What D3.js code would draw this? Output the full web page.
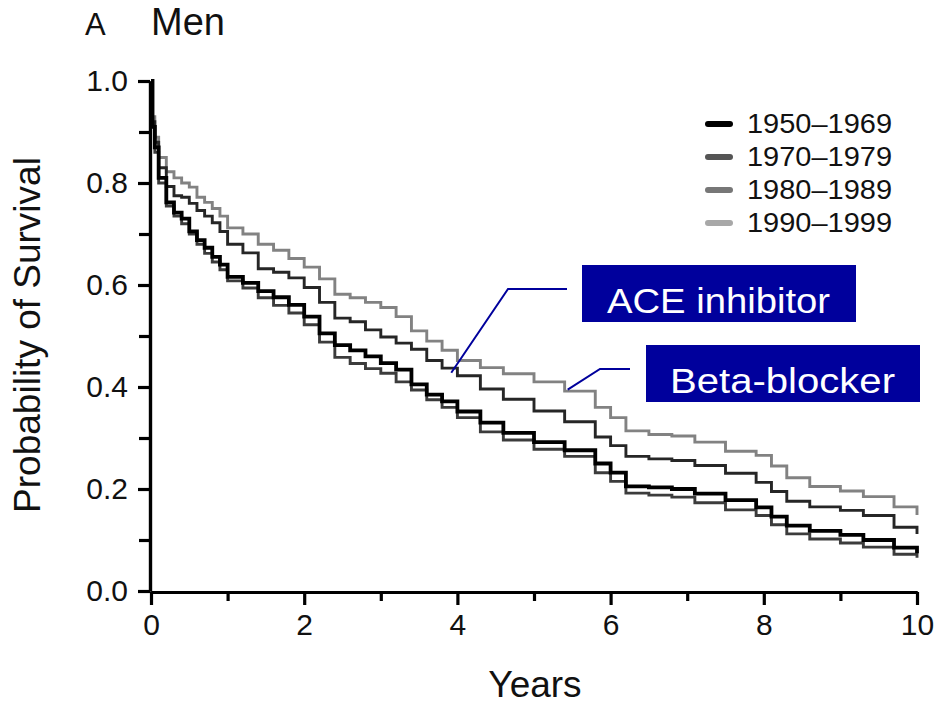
<!DOCTYPE html>
<html>
<head>
<meta charset="utf-8">
<script src="https://cdn.jsdelivr.net/npm/d3@7"></script>
<style>
  body { margin: 0; background: #fff; }
  svg { font-family: "Liberation Sans", Arial, sans-serif; display: block; }
</style>
</head>
<body>
<svg id="chart" width="935" height="705"></svg>
<script>
// follow-up years (step points of the Kaplan-Meier curves)
const years = [0, 0.02, 0.05, 0.1, 0.2, 0.3, 0.4, 0.5, 0.6, 0.7, 0.8, 0.9, 1.0, 1.2, 1.4, 1.6, 1.8, 2.0, 2.2, 2.4, 2.6, 2.8, 3.0, 3.2, 3.4, 3.6, 3.8, 4.0, 4.3, 4.6, 5.0, 5.4, 5.8, 6.0, 6.2, 6.5, 6.8, 7.1, 7.5, 7.9, 8.1, 8.3, 8.6, 9.0, 9.3, 9.7, 10.0];

const surv1950 = [1.0, 0.91, 0.87, 0.81, 0.762, 0.742, 0.73, 0.705, 0.688, 0.673, 0.655, 0.64, 0.616, 0.604, 0.588, 0.576, 0.561, 0.538, 0.505, 0.482, 0.472, 0.46, 0.447, 0.434, 0.405, 0.385, 0.372, 0.352, 0.33, 0.31, 0.292, 0.276, 0.25, 0.232, 0.205, 0.203, 0.2, 0.191, 0.178, 0.164, 0.146, 0.128, 0.118, 0.11, 0.1, 0.085, 0.074];
const surv1970 = [1.0, 0.91, 0.86, 0.80, 0.755, 0.735, 0.72, 0.70, 0.68, 0.662, 0.645, 0.63, 0.608, 0.594, 0.575, 0.56, 0.545, 0.522, 0.488, 0.458, 0.446, 0.436, 0.427, 0.41, 0.394, 0.375, 0.36, 0.34, 0.312, 0.296, 0.278, 0.264, 0.232, 0.215, 0.192, 0.188, 0.184, 0.173, 0.159, 0.148, 0.13, 0.112, 0.102, 0.094, 0.086, 0.072, 0.065];
const surv1980 = [1.0, 0.92, 0.88, 0.83, 0.793, 0.775, 0.772, 0.76, 0.746, 0.735, 0.722, 0.705, 0.68, 0.663, 0.632, 0.625, 0.614, 0.595, 0.566, 0.535, 0.528, 0.512, 0.498, 0.486, 0.474, 0.452, 0.437, 0.422, 0.396, 0.376, 0.353, 0.332, 0.302, 0.285, 0.264, 0.259, 0.256, 0.246, 0.231, 0.213, 0.195, 0.176, 0.165, 0.158, 0.148, 0.125, 0.112];
const surv1990 = [1.0, 0.93, 0.89, 0.85, 0.822, 0.81, 0.80, 0.792, 0.772, 0.762, 0.75, 0.735, 0.712, 0.70, 0.68, 0.668, 0.652, 0.635, 0.612, 0.582, 0.575, 0.566, 0.556, 0.538, 0.51, 0.49, 0.472, 0.452, 0.438, 0.426, 0.41, 0.392, 0.36, 0.34, 0.314, 0.307, 0.304, 0.292, 0.274, 0.266, 0.245, 0.222, 0.205, 0.196, 0.185, 0.165, 0.149];

const periods = ['1950\u20131969', '1970\u20131979', '1980\u20131989', '1990\u20131999'];
const lineColors = ['#000000', '#3c3c3c', '#262626', '#828282'];
const legendColors = ['#000000', '#555555', '#777777', '#a8a8a8'];
const lineWidths = [3.8, 2.9, 2.9, 2.9];

const yMajor = [0, 0.2, 0.4, 0.6, 0.8, 1.0];
const yMinor = [0.1, 0.3, 0.5, 0.7, 0.9];
const xMajor = [0, 2, 4, 6, 8, 10];
const xMinor = [1, 3, 5, 7, 9];

// callouts: label, year and survival value the leader line points at
const callouts = [
  { label: 'ACE inhibitor', year: 3.92, value: 0.428 },
  { label: 'Beta-blocker', year: 5.44, value: 0.395 }
];

const svg = d3.select('#chart');

const x = d3.scaleLinear().domain([0, 10]).range([151, 917]);
const y = d3.scaleLinear().domain([0, 1]).range([591, 81]);

// axes
const yAxisMinor = d3.axisLeft(y).tickValues(yMinor).tickSize(11).tickSizeOuter(0).tickFormat('');
const yAxisMajor = d3.axisLeft(y).tickValues(yMajor).tickSize(12).tickSizeOuter(0).tickPadding(10).tickFormat(d3.format('.1f'));
const xAxisMinor = d3.axisBottom(x).tickValues(xMinor).tickSize(9).tickSizeOuter(0).tickFormat('');
const xAxisMajor = d3.axisBottom(x).tickValues(xMajor).tickSize(13).tickSizeOuter(0).tickPadding(9).tickFormat(d3.format('d'));

function styleAxis(g) {
  g.selectAll('path, line').attr('stroke', '#000').attr('stroke-width', 3.2);
  g.selectAll('text').attr('fill', '#111').attr('font-size', 30).attr('font-family', '"Liberation Sans", Arial, sans-serif');
}

svg.append('g').attr('transform', 'translate(150,0)').call(yAxisMinor).call(styleAxis);
svg.append('g').attr('transform', 'translate(150,0)').call(yAxisMajor).call(styleAxis);
svg.append('g').attr('transform', 'translate(0,592)').call(xAxisMinor).call(styleAxis);
svg.append('g').attr('transform', 'translate(0,592)').call(xAxisMajor).call(styleAxis);

// survival curves
const series = [surv1950, surv1970, surv1980, surv1990];
const line = d3.line()
  .x((d, i) => x(years[i]))
  .y(d => y(d))
  .curve(d3.curveStepAfter);

const drawOrder = [3, 2, 1, 0];
svg.append('g')
  .selectAll('path')
  .data(drawOrder)
  .enter()
  .append('path')
  .attr('d', i => line(series[i]))
  .attr('fill', 'none')
  .attr('stroke', i => lineColors[i])
  .attr('stroke-width', i => lineWidths[i])
  .attr('stroke-linejoin', 'miter');

// legend
const legend = svg.append('g').attr('transform', 'translate(706,0)');
legend.selectAll('line')
  .data(periods)
  .enter()
  .append('line')
  .attr('x1', 2)
  .attr('x2', 24)
  .attr('y1', (d, i) => 124 + i * 33)
  .attr('y2', (d, i) => 124 + i * 33)
  .attr('stroke', (d, i) => legendColors[i])
  .attr('stroke-width', 6)
  .attr('stroke-linecap', 'round');
legend.selectAll('text')
  .data(periods)
  .enter()
  .append('text')
  .attr('x', 41)
  .attr('y', (d, i) => 133 + i * 33)
  .attr('font-size', 27)
  .attr('fill', '#111')
  .attr('textLength', 145)
  .attr('lengthAdjust', 'spacingAndGlyphs')
  .text(d => d);

// callout boxes
const navy = '#00009c';
const boxes = [
  { x0: 582, y0: 265, w: 274, h: 57, tx: 607, ty: 313, tl: 223, elbow: [508, 289], end: 567 },
  { x0: 646, y0: 345, w: 274, h: 57, tx: 670, ty: 393, tl: 225, elbow: [600, 369], end: 630 }
];
callouts.forEach((c, i) => {
  const b = boxes[i];
  svg.append('polyline')
    .attr('points', [[x(c.year), y(c.value)], b.elbow, [b.end, b.elbow[1]]].map(p => p.join(',')).join(' '))
    .attr('fill', 'none')
    .attr('stroke', navy)
    .attr('stroke-width', 2);
  svg.append('rect')
    .attr('x', b.x0).attr('y', b.y0).attr('width', b.w).attr('height', b.h)
    .attr('fill', navy);
  svg.append('text')
    .attr('x', b.tx).attr('y', b.ty)
    .attr('font-size', 35)
    .attr('fill', '#fff')
    .attr('textLength', b.tl)
    .attr('lengthAdjust', 'spacingAndGlyphs')
    .text(c.label);
});

// titles and axis labels
svg.append('text').attr('x', 85).attr('y', 35).attr('font-size', 31).attr('fill', '#111').text('A');
svg.append('text').attr('x', 151).attr('y', 35).attr('font-size', 38).attr('fill', '#111').text('Men');

svg.append('text')
  .attr('transform', 'translate(40,335) rotate(-90)')
  .attr('text-anchor', 'middle')
  .attr('font-size', 37)
  .attr('fill', '#111')
  .text('Probability of Survival');

svg.append('text')
  .attr('x', 535).attr('y', 697)
  .attr('text-anchor', 'middle')
  .attr('font-size', 37)
  .attr('fill', '#111')
  .text('Years');
</script>
</body>
</html>
